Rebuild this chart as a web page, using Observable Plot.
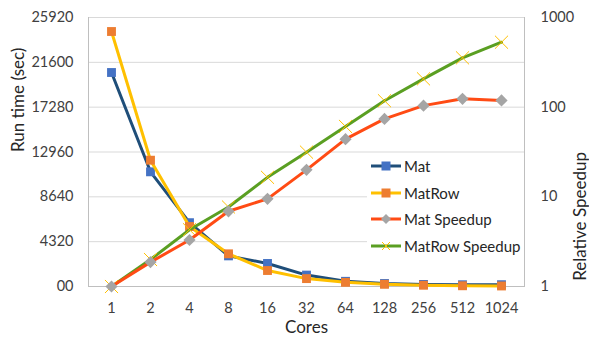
<!DOCTYPE html>
<html>
<head>
<meta charset="utf-8">
<script src="https://cdn.jsdelivr.net/npm/d3@7"></script>
<script src="https://cdn.jsdelivr.net/npm/@observablehq/plot@0.6"></script>
<style>
  html, body { margin: 0; padding: 0; background: #fff; }
  #wrap { position: relative; width: 589px; height: 337px; font-family: Lato, "Open Sans", sans-serif; }
  #wrap > svg { position: absolute; left: 0; top: 0; }
  #legend { position: absolute; left: 367px; top: 154px; width: 157px; height: 104px; background: #fff; font-size: 15px; color: #262626; }
  .item { position: absolute; left: 4px; height: 16px; display: flex; align-items: center; white-space: nowrap; }
  .item svg { margin-right: 3px; }
</style>
</head>
<body>
<div id="wrap"></div>
<script>
const cores = ["1", "2", "4", "8", "16", "32", "64", "128", "256", "512", "1024"];
const matTime = [20620, 11050, 6150, 2950, 2220, 1100, 500, 290, 200, 170, 175];
const matRowTime = [24570, 12170, 5780, 3150, 1540, 760, 400, 210, 120, 70, 50];
const matSpeedup = [1, 1.87, 3.3, 6.9, 9.5, 20, 44, 74, 104, 124, 119];
const matRowSpeedup = [1, 2.0, 4.3, 7.7, 16.5, 31.5, 61, 118, 207, 355, 530];
const timeTicks = [0, 4320, 8640, 12960, 17280, 21600, 25920];
const speedTicks = [1, 10, 100, 1000];
const seriesNames = ["Mat", "MatRow", "Mat Speedup", "MatRow Speedup"];

const data = cores.map((c, i) => ({
  c, mat: matTime[i], matRow: matRowTime[i], matS: matSpeedup[i], matRowS: matRowSpeedup[i]
}));

const common = {
  width: 589, height: 337,
  marginLeft: 88, marginRight: 65, marginTop: 17, marginBottom: 51,
  style: { fontFamily: "Lato, 'Open Sans', sans-serif", fontSize: "14.5px", color: "#404040", background: "transparent" }
};

const p1 = Plot.plot({
  ...common,
  x: { type: "point", domain: cores, padding: 0.5 },
  y: { domain: [0, 25920] },
  marks: [
    Plot.gridY(timeTicks, { stroke: "#D9D9D9", strokeOpacity: 1 }),
    Plot.frame({ anchor: "left", stroke: "#BFBFBF" }),
    Plot.frame({ anchor: "right", stroke: "#BFBFBF" }),
    Plot.ruleY([0], { stroke: "#BFBFBF" }),
    Plot.axisY(timeTicks, { tickSize: 0, tickPadding: 15, label: null, tickFormat: d => d === 0 ? "00" : String(d) }),
    Plot.axisX({ tickSize: 0, tickPadding: 16, label: null }),
    Plot.text(["Run time (sec)"], { frameAnchor: "left", dx: -70, rotate: -90, fontSize: 17, fill: "#262626" }),
    Plot.text(["Cores"], { frameAnchor: "bottom", dy: 46, fontSize: 17, fill: "#262626" }),
    Plot.lineY(data, { x: "c", y: "mat", stroke: "#1F4E79", strokeWidth: 3 }),
    Plot.dot(data, { x: "c", y: "mat", symbol: "square", fill: "#4472C4", r: 5 }),
    Plot.lineY(data, { x: "c", y: "matRow", stroke: "#FFC000", strokeWidth: 3 }),
    Plot.dot(data, { x: "c", y: "matRow", symbol: "square", fill: "#ED7D31", r: 5 })
  ]
});

const p2 = Plot.plot({
  ...common,
  x: { type: "point", domain: cores, padding: 0.5, axis: null },
  y: { type: "log", domain: [1, 1000] },
  marks: [
    Plot.axisY(speedTicks, { anchor: "right", tickSize: 0, tickPadding: 16, label: null, tickFormat: d => String(d) }),
    Plot.text(["Relative Speedup"], { frameAnchor: "right", dx: 56, rotate: -90, fontSize: 17, fill: "#262626" }),
    Plot.lineY(data, { x: "c", y: "matRowS", stroke: "#5A9F22", strokeWidth: 3 }),
    Plot.dot(data, { x: "c", y: "matRowS", symbol: "times", stroke: "#FFC000", strokeWidth: 1, r: 6 }),
    Plot.lineY(data, { x: "c", y: "matS", stroke: "#FF4B14", strokeWidth: 3 }),
    Plot.dot(data, { x: "c", y: "matS", symbol: "diamond2", fill: "#A5A5A5", r: 5.5 })
  ]
});

const wrap = document.getElementById("wrap");
wrap.appendChild(p1);
wrap.appendChild(p2);

// Legend
const legend = document.createElement("div");
legend.id = "legend";
const swatches = [
  `<line x1="0" y1="8" x2="30" y2="8" stroke="#1F4E79" stroke-width="3"/><rect x="10.5" y="3.5" width="9" height="9" fill="#4472C4"/>`,
  `<line x1="0" y1="8" x2="30" y2="8" stroke="#FFC000" stroke-width="3"/><rect x="10.5" y="3.5" width="9" height="9" fill="#ED7D31"/>`,
  `<line x1="0" y1="8" x2="30" y2="8" stroke="#FF4B14" stroke-width="3"/><polygon points="15,3 20,8 15,13 10,8" fill="#A5A5A5"/>`,
  `<line x1="0" y1="8" x2="30" y2="8" stroke="#5A9F22" stroke-width="3"/><path d="M11,4L19,12M19,4L11,12" stroke="#FFC000" stroke-width="1"/>`
];
seriesNames.forEach((name, i) => {
  const it = document.createElement("div");
  it.className = "item";
  it.style.top = (4 + i * 26.5) + "px";
  it.innerHTML = `<svg width="30" height="16">${swatches[i]}</svg><span>${name}</span>`;
  legend.appendChild(it);
});
wrap.appendChild(legend);
</script>
</body>
</html>
